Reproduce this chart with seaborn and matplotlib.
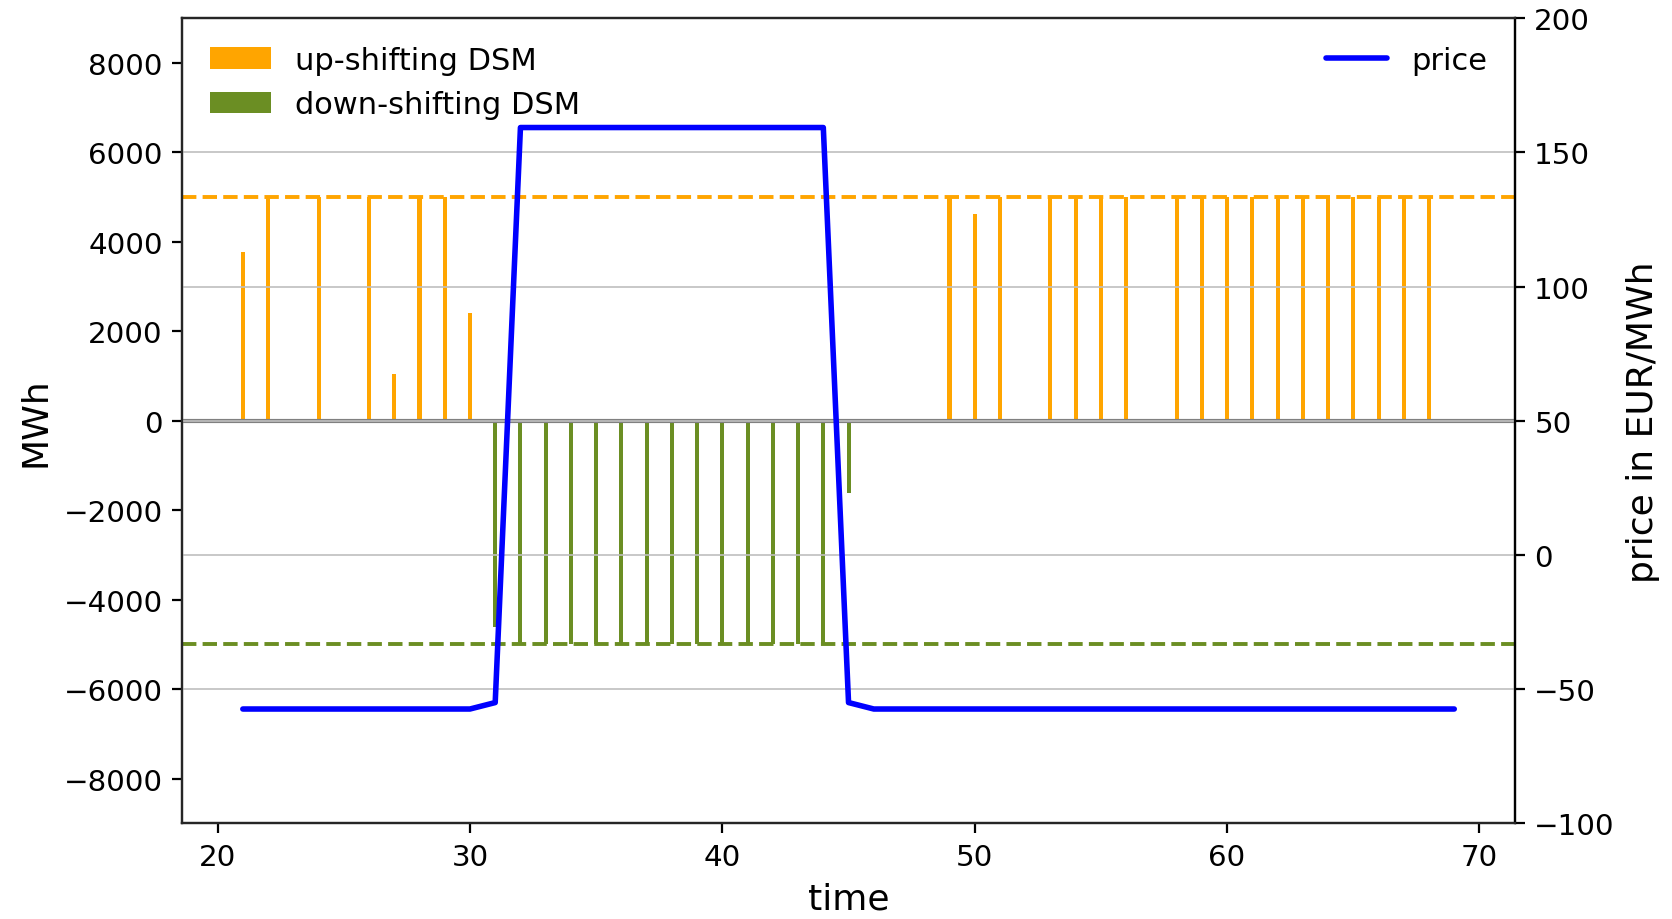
import numpy as np
import pandas as pd
import matplotlib
matplotlib.use("Agg")
import matplotlib.pyplot as plt
from matplotlib.patches import Patch
from matplotlib.lines import Line2D
import seaborn as sns

# ---- data ----
up_times = [21, 22, 24, 26, 27, 28, 29, 30,
            49, 50, 51, 53, 54, 55, 56, 58, 59, 60, 61, 62, 63, 64, 65, 66, 67, 68]
up_values = [3770, 5000, 5000, 5000, 1050, 5000, 5000, 2420,
             5000, 4620, 5000, 5000, 5000, 5000, 5000, 5000, 5000, 5000, 5000, 5000,
             5000, 5000, 5000, 5000, 5000, 5000]
down_times = [31, 32, 33, 34, 35, 36, 37, 38, 39, 40, 41, 42, 43, 44, 45]
down_values = [-4620, -5000, -5000, -5000, -5000, -5000, -5000, -5000, -5000,
               -5000, -5000, -5000, -5000, -5000, -1620]
price_times = list(range(21, 70))
price_values = [-57.4, -57.4, -57.4, -57.4, -57.4, -57.4, -57.4, -57.4, -57.4, -57.4,
                -55.0, 159.3, 159.3, 159.3, 159.3, 159.3, 159.3, 159.3, 159.3, 159.3,
                159.3, 159.3, 159.3, 159.3, -55.0, -57.4, -57.4, -57.4, -57.4, -57.4,
                -57.4, -57.4, -57.4, -57.4, -57.4, -57.4, -57.4, -57.4, -57.4, -57.4,
                -57.4, -57.4, -57.4, -57.4, -57.4, -57.4, -57.4, -57.4, -57.4]
up_limit = 5000
down_limit = -5000

sns.set_style("ticks")
plt.rcParams['font.family'] = ['DejaVu Sans']
plt.rcParams['text.color'] = 'black'
plt.rcParams['axes.labelcolor'] = 'black'
plt.rcParams['xtick.color'] = 'black'
plt.rcParams['ytick.color'] = 'black'
plt.rcParams['patch.force_edgecolor'] = False

fig = plt.figure(figsize=(8.36, 4.6), dpi=200)
ax = fig.add_axes([0.109, 0.104, 0.797, 0.875])

ax.bar(up_times, up_values, width=0.16, color="orange", edgecolor="none",
       linewidth=0, zorder=2)
ax.bar(down_times, down_values, width=0.16, color="olivedrab", edgecolor="none",
       linewidth=0, zorder=2)
ax.axhline(0, color="gray", lw=1.5, zorder=3)
ax.axhline(up_limit, color="orange", ls="--", lw=1.4, zorder=1)
ax.axhline(down_limit, color="olivedrab", ls="--", lw=1.4, zorder=1)

ax.set_ylim(-9000, 9000)
ax.set_xlim(18.6, 71.4)
ax.set_xticks([20, 30, 40, 50, 60, 70])
ax.set_yticks([-8000, -6000, -4000, -2000, 0, 2000, 4000, 6000, 8000])
ax.set_xlabel("time", fontsize=13)
ax.set_ylabel("MWh", fontsize=13)
ax.tick_params(labelsize=10.6, length=3.5, width=0.8, color="black")
for s in ax.spines.values():
    s.set_visible(True)
    s.set_color("0.15")
    s.set_linewidth(0.8)

ax2 = ax.twinx()
df_price = pd.DataFrame({"time": price_times, "price": price_values})
sns.lineplot(data=df_price, x="time", y="price", color="blue", lw=2, ax=ax2)
ax2.set_ylim(-100, 200)
ax2.set_yticks([-100, -50, 0, 50, 100, 150, 200])
ax2.grid(True, axis="y", color="0.75", lw=0.6)
ax2.set_ylabel("price in EUR/MWh", fontsize=13)
ax2.tick_params(labelsize=10.6, length=3.5, width=0.8, color="black")
ax2.spines["right"].set_color("black")
ax2.spines["right"].set_linewidth(0.8)
ax2.set_xlim(18.6, 71.4)

leg1 = ax.legend(handles=[Patch(facecolor="orange", edgecolor="none", label="up-shifting DSM"),
                          Patch(facecolor="olivedrab", edgecolor="none", label="down-shifting DSM")],
                 loc="upper left", frameon=False, fontsize=11, handlelength=2.0)
ax2.legend(handles=[Line2D([0], [0], color="blue", lw=2, label="price")],
           loc="upper right", frameon=False, fontsize=11, handlelength=2.0)

fig.savefig("out.png", dpi=200)
